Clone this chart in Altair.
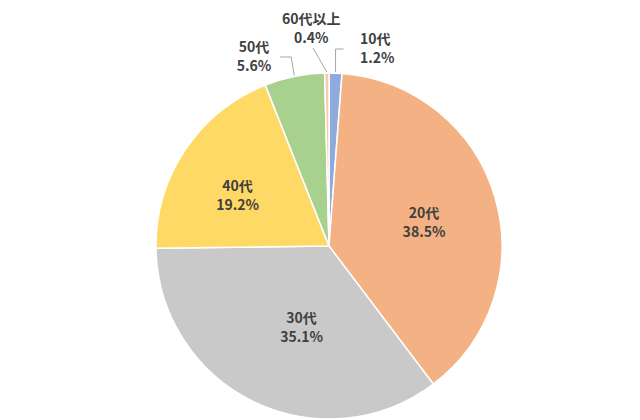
import math
import altair as alt
import pandas as pd

# ---- data ----
categories = ["10代", "20代", "30代", "40代", "50代", "60代以上"]
shares = [1.2, 38.5, 35.1, 19.2, 5.6, 0.4]
colors = ["#8FAADC", "#F4B183", "#C9C9C9", "#FFD966", "#A9D18E", "#F8CBAD"]

df = pd.DataFrame({
    "cat": categories,
    "value": shares,
    "idx": list(range(len(categories))),
    "label": [f"{c}\n{v}%" for c, v in zip(categories, shares)],
})

# ---- layout constants ----
W, H = 600, 348
R = 173
CX, CY = W / 2, H / 2
TEXT = "#404040"
FONT = "Noto Sans CJK JP"
LH = 19

theta_scale = alt.Scale(domain=[0, 100])

pie = alt.Chart(df).mark_arc(outerRadius=R, stroke="white", strokeWidth=1.5).encode(
    theta=alt.Theta("value:Q", stack=True, scale=theta_scale),
    color=alt.Color("cat:N", scale=alt.Scale(domain=categories, range=colors), legend=None),
    order=alt.Order("idx:Q"),
)

# label placement per category: radius, dx, dy (block centre), align
label_layout = {
    "10代": (198, 23.5, 1, "left"),
    "20代": (98, 1, 5, "center"),
    "30代": (85, 10, 6, "center"),
    "40代": (104, -5, 8, "center"),
    "50代": (195, -36, 3, "center"),
    "60代以上": (224, -15, 7, "center"),
}

labels = []
for c in categories:
    r, dx, dy, al = label_layout[c]
    labels.append(
        alt.Chart(df)
        .transform_window(cum="sum(value)", sort=[alt.SortField("idx")], frame=[None, 0])
        .transform_calculate(mid="datum.cum - datum.value / 2")
        .transform_filter(alt.datum.cat == c)
        .mark_text(radius=r, dx=dx, dy=dy - LH / 2, align=al, baseline="middle",
                   font=FONT, fontSize=14, fontWeight="bold", color=TEXT,
                   lineBreak="\n", lineHeight=LH)
        .encode(theta=alt.Theta("mid:Q", scale=theta_scale), text="label:N")
    )

# leader lines for the small outside-labelled slices, starting on the rim at mid-angle
cum = 0.0
mids = {}
for c, v in zip(categories, shares):
    mids[c] = cum + v / 2
    cum += v

def rim(c):
    a = mids[c] / 100 * 2 * math.pi
    return (CX + (R + 1) * math.sin(a), CY - (R + 1) * math.cos(a))

rows = []
x0, y0 = rim("10代")
for i, (x, y) in enumerate([(x0, y0), (x0, CY - 197), (x0 + 8, CY - 197)]):
    rows.append({"cat": "10代", "o": i, "px": x, "py": y})
x0, y0 = rim("60代以上")
for i, (x, y) in enumerate([(x0, y0), (CX - 16, CY - 198)]):
    rows.append({"cat": "60代以上", "o": i, "px": x, "py": y})
x0, y0 = rim("50代")
for i, (x, y) in enumerate([(x0, y0), (x0 - 3, CY - 189), (CX - 49, CY - 189)]):
    rows.append({"cat": "50代", "o": i, "px": x, "py": y})
lead_df = pd.DataFrame(rows)

leaders = alt.Chart(lead_df).mark_line(color="#A6A6A6", strokeWidth=1).encode(
    x=alt.X("px:Q", scale=None),
    y=alt.Y("py:Q", scale=None),
    detail="cat:N",
    order="o:Q",
)

chart = alt.layer(pie, leaders, *labels).properties(
    width=W,
    height=H,
    autosize=alt.AutoSizeParams(type="none"),
    padding={"left": 21, "top": 64, "right": 3, "bottom": 0},
).configure(background="white").configure_view(stroke=None)

chart.save("out.html", embed_options={"renderer": "svg", "actions": False})
